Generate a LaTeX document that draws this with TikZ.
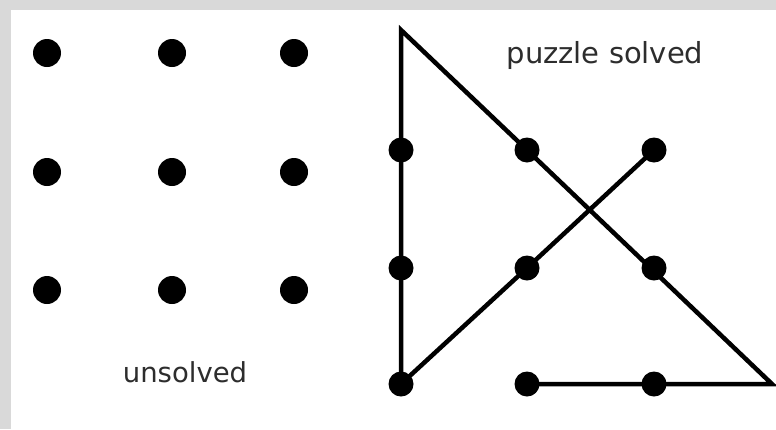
\documentclass[tikz,border=0pt]{standalone}
\usepackage{fontspec}
\setmainfont{DejaVu Sans}
\usepackage{tikz}
\usetikzlibrary{positioning}
\definecolor{frame}{RGB}{217,217,217}
\definecolor{ink}{RGB}{45,45,45}

\begin{document}
\begin{tikzpicture}[
  x=1pt,y=-1pt,
  dot/.style={circle,fill=black,inner sep=0pt,minimum size=28pt},
  sdot/.style={circle,fill=black,inner sep=0pt,minimum size=25pt},
  lbl/.style={text=ink,inner sep=0pt},
  stroke/.style={line width=4.5pt,line join=miter}
]
  \fill[frame] (0,0) rectangle (776,429);
  \fill[white] (11,10) rectangle (776,429);
  \useasboundingbox (0,0) rectangle (776,429);

  % unsolved grid
  \foreach \c/\x in {1/47,2/172,3/294}
    \foreach \r/\y in {1/53,2/172,3/290}
      \node[dot] (u\r\c) at (\x,\y) {};
  \node[lbl,font=\fontsize{27.5}{30}\selectfont] (unsolved) at (185,372) {unsolved};

  % solved grid
  \foreach \c/\x in {1/401,2/527,3/654}
    \foreach \r/\y in {1/150,2/268,3/384}
      \node[sdot] (s\r\c) at (\x,\y) {};
  \coordinate (apex) at (401,30);
  \coordinate (corner) at (772,384);
  \draw[stroke] (s32.center) -- (s33.center) -- (corner) -- (s12.center)
    -- (apex) -- (s11.center) -- (s31.center) -- (s22.center) -- (s13.center);
  \node[lbl,font=\fontsize{29}{32}\selectfont] (solved) at (605,55) {puzzle solved};
\end{tikzpicture}
\end{document}
